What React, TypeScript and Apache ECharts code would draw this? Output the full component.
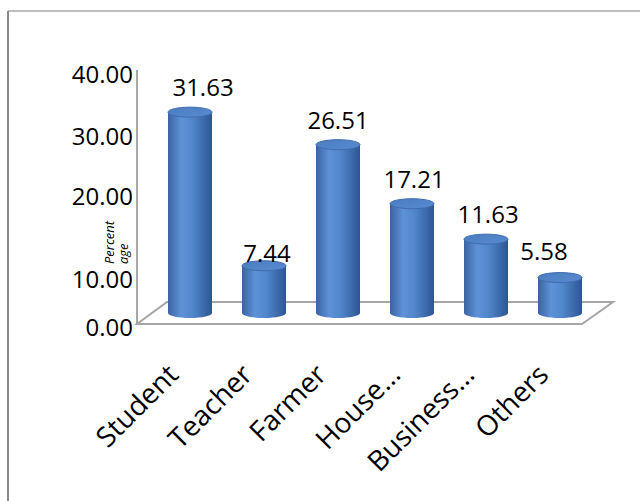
import React, { useEffect, useRef } from "react";
import * as echarts from "echarts";

const categories = ["Student", "Teacher", "Farmer", "House…", "Business…", "Others"];
const values = [31.63, 7.44, 26.51, 17.21, 11.63, 5.58];
const yTicks = [0, 10, 20, 30, 40];
const axisTitle = "Percent\nage";

// label nudges (pixels), kept apart from the data
const labelNudge: [number, number][] = [[13, 0], [3, 12], [0, 0], [2, 0], [2, 0], [-16, -2]];
// vertical nudges of the tick labels, keyed by tick value (pixels, downwards)
const tickNudge: Record<number, number> = { 0: 13, 10: 29, 20: 9, 30: 13, 40: 14 };

const FONT = '"Open Sans", "Noto Sans", sans-serif';

export default function App() {
  const ref = useRef<HTMLDivElement>(null);
  useEffect(() => {
    if (!ref.current) return;
    const chart = echarts.init(ref.current, null, { renderer: "svg" });

    const rich: Record<string, any> = {};
    yTicks.forEach((t) => {
      rich["s" + t] = {
        fontSize: 24,
        fontFamily: FONT,
        color: "#000",
        padding: [2 * (tickNudge[t] || 0), 0, 0, 0],
      };
    });

    const option: any = {
      animation: false,
      backgroundColor: "#fff",
      grid: { left: 153, right: 43, top: 59, bottom: 188, containLabel: false },
      xAxis: {
        type: "category",
        data: categories,
        axisLine: { show: false },
        axisTick: { show: false },
        splitLine: { show: false },
        axisLabel: {
          interval: 0,
          rotate: 45,
          margin: 38,
          padding: [0, 25, 0, 0],
          fontSize: 28,
          fontFamily: FONT,
          color: "#000",
        },
      },
      yAxis: {
        type: "value",
        min: 0,
        max: 40,
        interval: 10,
        axisLine: { show: false },
        axisTick: { show: false },
        splitLine: { show: false },
        axisLabel: {
          margin: 20,
          formatter: (v: number) => `{s${v}|${v.toFixed(2)}}`,
          rich,
        },
      },
      graphic: [
        { type: "line", z: 0, shape: { x1: 8, y1: 11, x2: 640, y2: 11 }, style: { stroke: "#a8a8a8", lineWidth: 1.5 } },
        { type: "line", z: 0, shape: { x1: 8, y1: 11, x2: 8, y2: 501 }, style: { stroke: "#8c8c8c", lineWidth: 2 } },
        { type: "line", z: 0, shape: { x1: 137, y1: 70, x2: 137, y2: 325 }, style: { stroke: "#a6a6a6", lineWidth: 2 } },
        {
          type: "polygon",
          z: 0,
          shape: { points: [[137, 324], [582, 324], [613, 302], [167, 302]] },
          style: { fill: "none", stroke: "#a6a6a6", lineWidth: 2 },
        },
        {
          type: "text",
          z: 5,
          x: 102,
          y: 264,
          rotation: Math.PI / 2,
          style: {
            text: axisTitle,
            fontSize: 13,
            fontStyle: "italic",
            fontFamily: FONT,
            fill: "#000",
            align: "left",
            verticalAlign: "top",
            lineHeight: 14,
          },
        },
      ],
      series: [
        {
          type: "custom",
          z: 2,
          data: values.map((v, i) => [i, v]),
          encode: { x: 0, y: 1 },
          renderItem: (params: any, api: any) => {
            const i = api.value(0);
            const v = api.value(1);
            const top = api.coord([i, v]);
            const base = api.coord([i, 0]);
            const w = 44;
            const rx = w / 2;
            const ry = 5;
            const body = new echarts.graphic.LinearGradient(0, 0, 1, 0, [
              { offset: 0, color: "#3a63a3" },
              { offset: 0.3, color: "#5e92d8" },
              { offset: 0.55, color: "#5287cc" },
              { offset: 1, color: "#2d5592" },
            ]);
            const cap = new echarts.graphic.LinearGradient(0, 0, 1, 1, [
              { offset: 0, color: "#4a7cc0" },
              { offset: 1, color: "#5a8bd0" },
            ]);
            return {
              type: "group",
              children: [
                { type: "ellipse", shape: { cx: base[0], cy: base[1], rx, ry }, style: { fill: body } },
                {
                  type: "rect",
                  shape: { x: base[0] - rx, y: top[1], width: w, height: base[1] - top[1] },
                  style: { fill: body },
                },
                {
                  type: "ellipse",
                  shape: { cx: top[0], cy: top[1], rx, ry },
                  style: { fill: cap, stroke: "#3f6cae", lineWidth: 1 },
                },
              ],
            };
          },
        },
        {
          type: "scatter",
          z: 3,
          symbolSize: 1,
          itemStyle: { color: "rgba(0,0,0,0)", opacity: 1 },
          data: values.map((v, i) => ({
            value: [i, v],
            label: { offset: labelNudge[i] },
          })),
          label: {
            show: true,
            position: "top",
            distance: 13,
            fontSize: 24,
            fontFamily: FONT,
            color: "#000",
            opacity: 1,
            formatter: (p: any) => p.value[1].toFixed(2),
          },
        },
      ],
    };
    chart.setOption(option);
    return () => chart.dispose();
  }, []);

  return (
    <div
      ref={ref}
      style={{ position: "fixed", left: 0, top: 0, width: 640, height: 501, background: "#fff" }}
    />
  );
}
